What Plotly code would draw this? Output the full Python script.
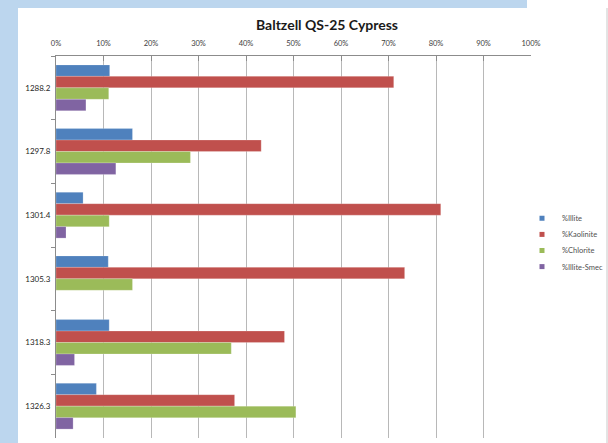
import plotly.graph_objects as go

# Sample depths (ft) and clay-mineral fractions (%)
depths = ["1288.2", "1297.8", "1301.4", "1305.3", "1318.3", "1326.3"]
illite = [11.3, 16.1, 5.7, 11.0, 11.2, 8.5]
kaolinite = [71.1, 43.2, 81.0, 73.4, 48.1, 37.6]
chlorite = [11.1, 28.3, 11.2, 16.1, 36.9, 50.5]
illite_smec = [6.3, 12.6, 2.1, 0.0, 3.9, 3.6]

x_ticks = list(range(0, 101, 10))
x_tick_labels = [f"{v}%" for v in x_ticks]

series = [
    ("%Illite", illite, "#4f81bd"),
    ("%Kaolinite", kaolinite, "#c0504d"),
    ("%Chlorite", chlorite, "#9bbb59"),
    ("%Illite-Smec", illite_smec, "#8064a2"),
]

FONT = "Lato"
W, H = 608, 443
ML, MR, MT, MB = 56, 77, 56, 5
PW, PH = W - ML - MR, H - MT - MB


def px_x(p):
    return (p - ML) / PW


def px_y(p):
    return (H - MB - p) / PH


fig = go.Figure()
legend_layouts = {}
for i, (name, vals, color) in enumerate(series):
    fig.add_trace(go.Bar(
        y=depths, x=vals, name=name, orientation="h",
        marker=dict(color=color, line=dict(color="rgba(255,255,255,0.35)", width=0.6)),
        showlegend=False,
    ))
    # one single-entry legend per series, stacked with tight spacing
    key = "legend" if i == 0 else f"legend{i + 1}"
    fig.add_trace(go.Scatter(
        x=[None], y=[None], mode="markers", name=name,
        marker=dict(symbol="square", size=5, color=color),
        showlegend=True, legend=key,
    ))
    legend_layouts[key] = dict(
        x=px_x(522), y=px_y(218.3 + 16.1 * i), xanchor="left", yanchor="middle",
        font=dict(family=FONT, size=7.5, color="#505050"),
        itemwidth=30, bgcolor="rgba(0,0,0,0)", borderwidth=0,
    )

fig.update_layout(
    width=W, height=H,
    margin=dict(l=ML, r=MR, t=MT, b=MB, pad=0, autoexpand=False),
    paper_bgcolor="white", plot_bgcolor="white",
    barmode="group", bargap=0.28, bargroupgap=0,
    title=dict(text="<b>Baltzell QS-25 Cypress</b>",
               font=dict(family=FONT, size=14, color="#1a1a1a"),
               x=px_x(327), xref="paper", xanchor="center",
               y=1 - 25 / H, yref="container", yanchor="middle"),
    font=dict(family=FONT, color="#404040"),
    xaxis=dict(side="top", range=[0, 100], tickvals=x_ticks, ticktext=x_tick_labels,
               showgrid=True, gridcolor="#b8b8b8", gridwidth=1,
               showline=True, linecolor="#8c8c8c", linewidth=1,
               ticks="inside", ticklen=5, tickcolor="#8c8c8c",
               ticklabelstandoff=6,
               tickfont=dict(family=FONT, size=7.5, color="#404040"),
               zeroline=False, fixedrange=True),
    yaxis=dict(type="category", categoryorder="array", categoryarray=depths,
               autorange="reversed",
               showline=True, linecolor="#8c8c8c", linewidth=1,
               ticks="outside", ticklen=4, tickcolor="#8c8c8c", tickson="boundaries",
               ticklabelstandoff=3,
               tickfont=dict(family=FONT, size=8, color="#262626"),
               showgrid=False, zeroline=False, fixedrange=True),
    shapes=[
        # light-blue slide background around the chart panel
        dict(type="rect", xref="paper", yref="paper", layer="below",
             x0=px_x(0), x1=px_x(18), y0=px_y(H), y1=px_y(0),
             fillcolor="#bcd6ee", line=dict(width=0)),
        dict(type="rect", xref="paper", yref="paper", layer="below",
             x0=px_x(0), x1=px_x(527), y0=px_y(8), y1=px_y(0),
             fillcolor="#bcd6ee", line=dict(width=0)),
        # panel's right edge
        dict(type="line", xref="paper", yref="paper",
             x0=px_x(607), x1=px_x(607), y0=px_y(H), y1=px_y(8),
             line=dict(color="#c8c8c8", width=1)),
    ],
)
fig.update_layout(**legend_layouts)

fig.write_html("out.html")
